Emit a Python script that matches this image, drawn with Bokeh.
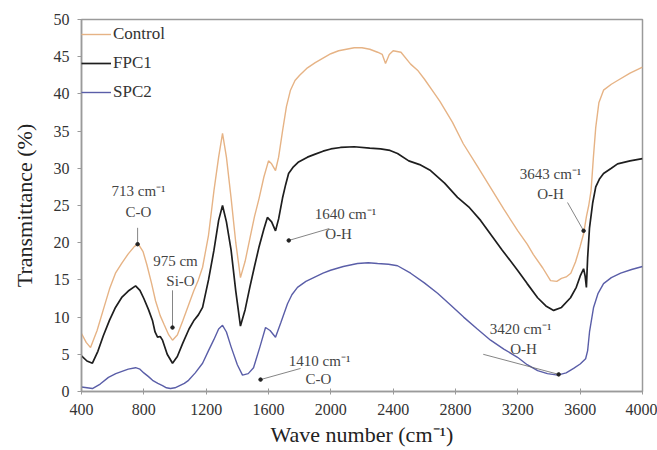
from bokeh.plotting import figure
from bokeh.models import ColumnDataSource, Legend, LegendItem, FixedTicker
from bokeh.core.properties import value
from bokeh.embed import file_html
from bokeh.resources import INLINE

# ---- data ----
control_x = [400, 430, 458, 500, 540, 580, 618, 660, 700, 740, 765, 795, 820, 850, 875, 905, 930, 960,
             984, 1015, 1050, 1090, 1120, 1150, 1177, 1215, 1250, 1280, 1305, 1330, 1360, 1390,
             1420, 1450, 1480, 1510, 1540, 1570, 1600, 1620, 1645, 1665, 1690, 1715, 1741, 1770,
             1800, 1850, 1900, 1950, 2000, 2050, 2100, 2150, 2200, 2250, 2300, 2330, 2351, 2375,
             2400, 2450, 2512, 2560, 2600, 2660, 2700, 2780, 2850, 2940, 3025, 3110, 3200, 3260,
             3300, 3360, 3410, 3450, 3480, 3510, 3540, 3570, 3600, 3622, 3640, 3655, 3670, 3685,
             3700, 3720, 3750, 3800, 3840, 3920, 4000]
control_y = [7.8, 6.6, 5.9, 8.2, 11.0, 13.8, 15.9, 17.3, 18.5, 19.5, 19.8, 18.8, 17.0, 14.5, 12.2,
             10.2, 9.0, 7.6, 6.9, 7.6, 9.5, 11.8, 13.5, 15.0, 16.7, 21.0, 27.0, 31.5, 34.7, 31.5,
             26.0, 20.0, 15.3, 17.5, 20.5, 23.5, 26.0, 28.8, 31.0, 30.6, 29.7, 31.5, 35.0, 38.3,
             40.5, 41.8, 42.5, 43.5, 44.2, 44.8, 45.4, 45.8, 46.0, 46.2, 46.2, 46.0, 45.6, 45.3,
             44.1, 45.3, 45.8, 45.6, 44.0, 43.1, 42.0, 40.2, 39.0, 36.2, 33.3, 30.3, 27.4, 24.5,
             21.6, 19.8, 18.4, 16.6, 14.9, 14.8, 15.2, 15.4, 15.9, 17.4, 19.5, 21.2, 23.5, 25.0,
             27.0, 31.5, 35.5, 38.8, 40.5, 41.3, 41.8, 42.8, 43.6]

fpc1_x = [400, 435, 470, 505, 540, 580, 618, 660, 700, 747, 775, 800, 830, 856, 872, 888, 905, 920,
          950, 984, 1015, 1050, 1090, 1120, 1150, 1177, 1215, 1250, 1280, 1305, 1330, 1360, 1390,
          1420, 1450, 1480, 1510, 1540, 1570, 1593, 1620, 1645, 1665, 1690, 1710, 1729, 1760, 1790,
          1850, 1900, 1950, 2000, 2062, 2150, 2250, 2319, 2380, 2428, 2500, 2570, 2640, 2730, 2813,
          2890, 2961, 3030, 3100, 3198, 3260, 3327, 3380, 3430, 3480, 3538, 3575, 3600, 3622, 3632,
          3640, 3648, 3660, 3680, 3700, 3725, 3750, 3800, 3840, 3920, 4000]
fpc1_y = [4.8, 4.1, 3.8, 5.4, 7.5, 9.6, 11.3, 12.7, 13.5, 14.2, 13.6, 12.5, 11.0, 9.5, 8.0, 7.3, 7.4,
          6.9, 5.0, 3.8, 4.7, 6.5, 8.4, 9.5, 10.3, 11.3, 15.0, 19.0, 23.0, 25.0, 22.8, 19.0, 13.5,
          8.8, 11.0, 14.0, 16.8, 19.5, 21.8, 23.4, 22.8, 21.6, 23.2, 26.0, 27.8, 29.3, 30.2, 30.8,
          31.5, 31.9, 32.3, 32.6, 32.8, 32.9, 32.7, 32.6, 32.4, 32.0, 31.0, 30.5, 29.7, 28.0, 26.1,
          24.7, 23.0, 21.0, 19.0, 16.3, 14.5, 12.6, 11.5, 10.9, 11.3, 12.6, 14.0, 15.5, 16.5, 15.5,
          14.0, 18.0, 22.0, 25.3, 27.5, 28.6, 29.3, 30.0, 30.6, 31.0, 31.3]

spc2_x = [400, 435, 470, 520, 573, 620, 660, 700, 747, 775, 800, 830, 856, 890, 920, 945, 971, 1000,
          1030, 1060, 1087, 1130, 1177, 1215, 1250, 1280, 1305, 1330, 1360, 1400, 1433, 1470, 1504,
          1545, 1581, 1610, 1645, 1680, 1722, 1750, 1786, 1840, 1900, 1950, 1998, 2080, 2171, 2240,
          2300, 2370, 2428, 2512, 2600, 2685, 2770, 2852, 2940, 3025, 3110, 3198, 3260, 3327, 3390,
          3455, 3510, 3558, 3600, 3635, 3648, 3660, 3686, 3715, 3750, 3800, 3860, 3930, 4000]
spc2_y = [0.6, 0.5, 0.4, 1.0, 1.9, 2.4, 2.7, 3.0, 3.2, 3.0, 2.5, 2.0, 1.5, 1.1, 0.8, 0.5, 0.4, 0.5,
          0.8, 1.1, 1.5, 2.5, 3.8, 5.5, 7.0, 8.4, 8.9, 8.0, 6.0, 3.6, 2.2, 2.4, 3.2, 6.0, 8.6, 8.2,
          7.3, 9.3, 11.8, 13.0, 14.0, 14.8, 15.4, 15.9, 16.3, 16.8, 17.2, 17.3, 17.2, 17.1, 16.9,
          15.9, 14.6, 13.2, 11.6, 10.0, 8.4, 6.9, 5.7, 4.6, 3.6, 2.8, 2.4, 2.2, 2.5, 3.1, 3.7, 4.4,
          5.5, 8.0, 11.3, 13.2, 14.5, 15.3, 15.9, 16.4, 16.8]

series_names = ["Control", "FPC1", "SPC2"]
x_ticks = [400, 800, 1200, 1600, 2000, 2400, 2800, 3200, 3600, 4000]
y_ticks = [0, 5, 10, 15, 20, 25, 30, 35, 40, 45, 50]

# annotations: marked point, two text lines
ann_px = [760, 984, 1730, 1549, 3462, 3622]
ann_py = [19.8, 8.6, 20.3, 1.6, 2.3, 21.6]
ann_line1 = ["713 cm\u207b\u00b9", "975 cm", "1640 cm\u207b\u00b9", "1410 cm\u207b\u00b9", "3420 cm\u207b\u00b9", "3643 cm\u207b\u00b9"]
ann_line2 = ["C-O", "Si-O", "O-H", "C-O", "O-H", "O-H"]

# ---- layout of annotations (text centres and leader-line ends, data units) ----
ann_t1 = [(766, 27.0), (1003, 17.5), (2094, 23.9), (1928, 4.1), (3218, 8.4), (3410, 29.3)]
ann_t2 = [(766, 24.1), (1035, 14.8), (2050, 21.2), (1921, 1.7), (3237, 5.7), (3410, 26.6)]
ann_lead = [(760, 22.0), (984, 13.6), (1990, 21.9), (1806, 3.1), (2978, 5.0), (3519, 25.4)]

SERIF = "Liberation Serif"
C_CONTROL = "#e6b385"
C_FPC1 = "#1e1e1e"
C_SPC2 = "#5a5ea8"
GRID = "#9a9a9a"

p = figure(width=657, height=450, x_range=(400, 4000), y_range=(0, 50),
           output_backend="svg", toolbar_location=None,
           min_border_left=81, min_border_right=15, min_border_top=19, min_border_bottom=59)
p.background_fill_color = "white"
p.border_fill_color = "white"
p.outline_line_color = GRID
p.outline_line_width = 1.5
p.xgrid.visible = False
p.ygrid.visible = False

r_c = p.line(control_x, control_y, line_color=C_CONTROL, line_width=1.4)
r_f = p.line(fpc1_x, fpc1_y, line_color=C_FPC1, line_width=1.7)
r_s = p.line(spc2_x, spc2_y, line_color=C_SPC2, line_width=1.4)

# leaders
for (lx, ly), px_, py_ in zip(ann_lead, ann_px, ann_py):
    p.line([lx, px_], [ly, py_], line_color="#666666", line_width=0.8)
p.scatter(ann_px, ann_py, size=3.5, color="#222222")

src1 = ColumnDataSource(dict(x=[t[0] for t in ann_t1], y=[t[1] for t in ann_t1], t=ann_line1))
src2 = ColumnDataSource(dict(x=[t[0] for t in ann_t2], y=[t[1] for t in ann_t2], t=ann_line2))
for s in (src1, src2):
    p.text(x="x", y="y", text="t", source=s, text_font=value(SERIF), text_font_size="15px",
           text_color="#444444", text_align="center", text_baseline="middle")

# axes
for ax in (p.xaxis[0], p.yaxis[0]):
    ax.axis_line_color = GRID
    ax.axis_line_width = 1.5
    ax.major_tick_line_color = GRID
    ax.minor_tick_line_color = None
    ax.major_label_text_font = SERIF
    ax.major_label_text_font_size = "16px"
    ax.major_label_text_color = "#333333"
    ax.axis_label_text_font = SERIF
    ax.axis_label_text_font_size = "22px"
    ax.axis_label_text_font_style = "normal"
    ax.axis_label_text_color = "#222222"

p.xaxis.ticker = FixedTicker(ticks=x_ticks)
p.yaxis.ticker = FixedTicker(ticks=y_ticks)
p.xaxis.major_tick_in = 3
p.xaxis.major_tick_out = 3
p.yaxis.major_tick_in = 0
p.yaxis.major_tick_out = 4
p.xaxis.major_label_standoff = 9
p.yaxis.major_label_standoff = 8
p.xaxis.axis_label = "Wave number (cm\u207b\u00b9)"
p.yaxis.axis_label = "Transmittance (%)"
p.xaxis.axis_label_standoff = 4
p.yaxis.axis_label_standoff = 14

legend = Legend(items=[LegendItem(label=series_names[0], renderers=[r_c]),
                       LegendItem(label=series_names[1], renderers=[r_f]),
                       LegendItem(label=series_names[2], renderers=[r_s])],
                location="top_left")
legend.border_line_color = None
legend.background_fill_alpha = 0
legend.label_text_font = SERIF
legend.label_text_font_size = "17px"
legend.label_text_color = "#333333"
legend.glyph_width = 30
legend.glyph_height = 20
legend.label_height = 29
legend.label_standoff = 2
legend.spacing = 0
legend.padding = 9
legend.margin = 0
p.add_layout(legend)

open("out.html", "w").write(file_html(p, INLINE))
